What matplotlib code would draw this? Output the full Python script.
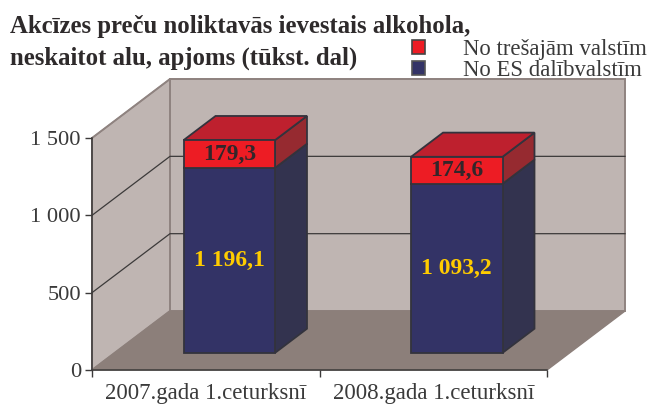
import matplotlib
matplotlib.use('Agg')
import matplotlib.pyplot as plt
from matplotlib.patches import Patch, Polygon

plt.rcParams['font.family'] = ['Liberation Serif', 'DejaVu Serif']

categories = ['2007.gada 1.ceturksnī', '2008.gada 1.ceturksnī']
es_values = [1196.1, 1093.2]
third_values = [179.3, 174.6]
es_labels = ['1 196,1', '1 093,2']
third_labels = ['179,3', '174,6']
y_ticks = [0, 500, 1000, 1500]
y_tick_labels = ['0', '500', '1 000', '1 500']
legend_names = ['No trešajām valstīm', 'No ES dalībvalstīm']
title = 'Akcīzes preču noliktavās ievestais alkohola,\nneskaitot alu, apjoms (tūkst. dal)'

W, H = 649, 405
DX = 78 / 227.5   # depth shift in category units
DY = 59 / 0.1547  # depth shift in value units
XMAX = len(categories)
YMAX = 1500


def pr(x, v, d=0.0):
    return (x + d * DX, v + d * DY)


def face(ax, pts, color, edge='none', lw=0.0, z=1):
    ax.add_patch(Polygon(pts, closed=True, facecolor=color, edgecolor=edge,
                         linewidth=lw, clip_on=False, zorder=z, joinstyle='miter'))


def box(ax, x0, x1, v0, v1, d0, d1, front, side, top, z):
    edge = '#33333d'
    face(ax, [pr(x1, v0, d0), pr(x1, v0, d1), pr(x1, v1, d1), pr(x1, v1, d0)], side, edge, 1.3, z)
    face(ax, [pr(x0, v1, d0), pr(x1, v1, d0), pr(x1, v1, d1), pr(x0, v1, d1)], top, edge, 1.3, z)
    face(ax, [pr(x0, v0, d0), pr(x1, v0, d0), pr(x1, v1, d0), pr(x0, v1, d0)], front, edge, 1.3, z + 0.1)


fig = plt.figure(figsize=(W / 100, H / 100), dpi=100)
ax = fig.add_axes([92 / W, 1 - 370 / H, 455 / W, 232 / H])
ax.set_xlim(0, XMAX)
ax.set_ylim(0, YMAX)
ax.patch.set_visible(False)

# стенки и пол
wall = '#bfb5b2'
face(ax, [pr(0, 0, 1), pr(XMAX, 0, 1), pr(XMAX, YMAX, 1), pr(0, YMAX, 1)], wall, '#8f8380', 1.4, 1)
face(ax, [pr(0, 0), pr(0, 0, 1), pr(0, YMAX, 1), pr(0, YMAX)], wall, '#8f8380', 1.4, 1)
face(ax, [pr(0, 0), pr(XMAX, 0), pr(XMAX, 0, 1), pr(0, 0, 1)], '#8c7f7a', '#8c7f7a', 1.0, 1.2)

for v in y_ticks[1:]:
    a, b, c = pr(0, v), pr(0, v, 1), pr(XMAX, v, 1)
    color = '#3c3a3a' if v < YMAX else '#8f8380'
    ax.plot([a[0], b[0], c[0]], [a[1], b[1], c[1]], color=color, lw=0.9, clip_on=False, zorder=1.5)

# бруски
d0, d1 = 0.29, 0.70
for i in range(len(categories)):
    x0, x1 = i + 0.303, i + 0.705
    es, third = es_values[i], third_values[i]
    box(ax, x0, x1, 0, es, d0, d1, '#333366', '#33334f', '#333366', 3)
    box(ax, x0, x1, es, es + third, d0, d1, '#ed1c24', '#962a30', '#be202e', 4)
    cx, _ = pr((x0 + x1) / 2, 0, d0)
    _, vy = pr(0, es * 0.5, d0)
    ax.text(cx, vy, es_labels[i], color='#ffcc00', fontsize=17, fontweight='bold',
            ha='center', va='center', zorder=6)
    _, vy = pr(0, es + third / 2, d0)
    ax.text(cx, vy, third_labels[i], color='#33262a', fontsize=17, fontweight='bold',
            ha='center', va='center', zorder=6)

# оси
for s in ['top', 'right']:
    ax.spines[s].set_visible(False)
for s in ['left', 'bottom']:
    ax.spines[s].set_color('#3c3a3a')
    ax.spines[s].set_linewidth(1.1)
    ax.spines[s].set_zorder(5)
ax.set_yticks(y_ticks)
ax.set_yticklabels(y_tick_labels, fontsize=16.2, color='#3a3a3a')
ax.set_xticks(range(XMAX + 1))
ax.set_xticklabels([])
ax.set_xticks([i + 0.5 for i in range(XMAX)], minor=True)
ax.set_xticklabels(categories, minor=True, fontsize=16.5, color='#3a3a3a')
ax.tick_params(axis='x', which='minor', length=0, pad=9)
ax.tick_params(axis='both', which='major', length=5, width=1, color='#3c3a3a')
ax.tick_params(axis='y', pad=3)

fig.text(10 / W, 1 - 15 / H, title, fontsize=17.8, fontweight='bold', color='#2e2a2b',
         ha='left', va='top', linespacing=1.47)

handles = [Patch(facecolor='#ed1c24', edgecolor='#444444', lw=1.2),
           Patch(facecolor='#333366', edgecolor='#555555', lw=1.2)]
fig.legend(handles, legend_names, loc='upper left', bbox_to_anchor=(412 / W, 1 - 39 / H),
           frameon=False, fontsize=16.4, handlelength=0.57, handleheight=0.57,
           handletextpad=1.67, labelspacing=0.0, labelcolor='#3a3a3a',
           borderpad=0, borderaxespad=0)

fig.savefig('out.png', dpi=100)
